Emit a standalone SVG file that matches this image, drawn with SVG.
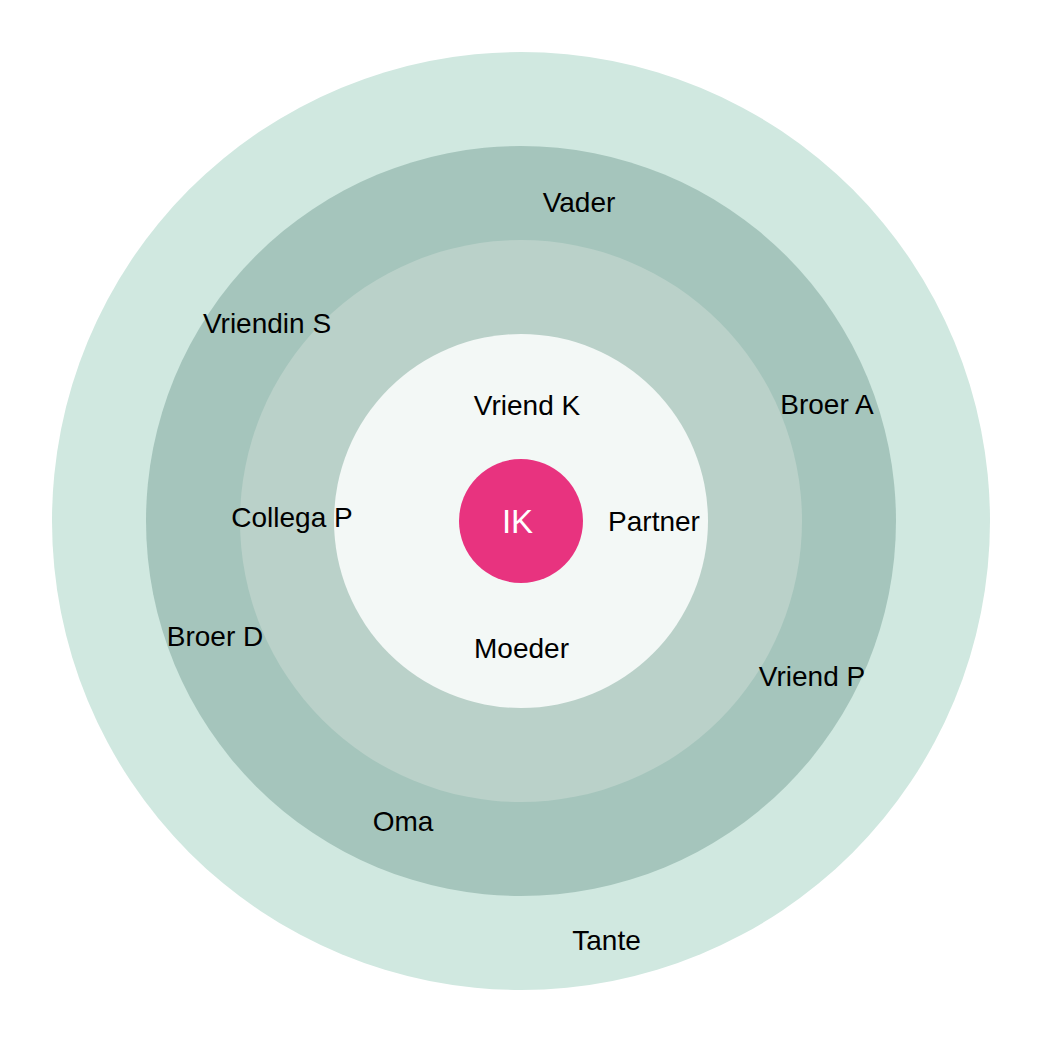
<svg xmlns="http://www.w3.org/2000/svg" width="1043" height="1043" viewBox="0 0 1043 1043">
<style>
.lbl{font-family:"Liberation Sans",Arial,sans-serif;font-size:28px;fill:#000;text-anchor:middle}
.ik{font-family:"Liberation Sans",Arial,sans-serif;font-size:33px;fill:#fff;text-anchor:middle}
</style>
<rect width="1043" height="1043" fill="#fff"/>
<g id="rings">
<circle id="ring4" cx="521" cy="521" r="469" fill="#d0e8e0"/>
<circle id="ring3" cx="521" cy="521" r="375" fill="#a5c5bc"/>
<circle id="ring2" cx="521" cy="521" r="281" fill="#bad1c9"/>
<circle id="ring1" cx="521" cy="521" r="187" fill="#f3f8f6"/>
</g>
<g id="connectors"></g>
<g id="node-ik"><circle cx="521" cy="521" r="62" fill="#e8337f"/><text class="ik" x="517.5" y="533">IK</text></g>
<g id="node-vader"><text class="lbl" x="579" y="212">Vader</text></g>
<g id="node-vriendin-s"><text class="lbl" x="267" y="333">Vriendin S</text></g>
<g id="node-broer-a"><text class="lbl" x="827" y="414">Broer A</text></g>
<g id="node-vriend-k"><text class="lbl" x="527" y="415">Vriend K</text></g>
<g id="node-collega-p"><text class="lbl" x="292" y="527">Collega P</text></g>
<g id="node-partner"><text class="lbl" x="654" y="531">Partner</text></g>
<g id="node-broer-d"><text class="lbl" x="215" y="646">Broer D</text></g>
<g id="node-moeder"><text class="lbl" x="521.5" y="658">Moeder</text></g>
<g id="node-vriend-p"><text class="lbl" x="812" y="686">Vriend P</text></g>
<g id="node-oma"><text class="lbl" x="403" y="831">Oma</text></g>
<g id="node-tante"><text class="lbl" x="606.5" y="950">Tante</text></g>
</svg>
